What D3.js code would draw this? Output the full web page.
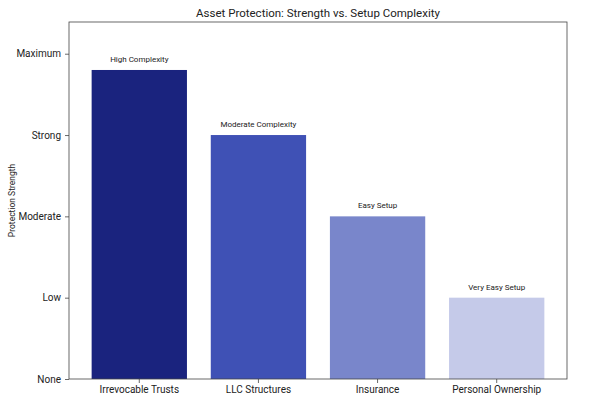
<!DOCTYPE html>
<html>
<head>
<meta charset="utf-8">
<script src="https://cdn.jsdelivr.net/npm/d3@7"></script>
<style>
body { margin: 0; background: #fff; }
svg text { font-family: "Roboto", "Noto Sans", sans-serif; fill: #222; }
</style>
</head>
<body>
<div id="chart"></div>
<script>
// chart values
var categories = ["Irrevocable Trusts", "LLC Structures", "Insurance", "Personal Ownership"];
var strength = [3.8, 3.0, 2.0, 1.0];
var complexity = ["High Complexity", "Moderate Complexity", "Easy Setup", "Very Easy Setup"];
var barColors = ["#1a237e", "#3f51b5", "#7986cb", "#c5cae9"];
var levelValues = [0, 1, 2, 3, 4];
var levelLabels = ["None", "Low", "Moderate", "Strong", "Maximum"];

var width = 600, height = 403;
var margin = {top: 22, right: 33, bottom: 24, left: 69};

var svg = d3.select("#chart").append("svg")
  .attr("width", width)
  .attr("height", height);

var plotW = width - margin.left - margin.right;
var plotH = height - margin.top - margin.bottom;

var g = svg.append("g")
  .attr("transform", "translate(" + margin.left + "," + margin.top + ")");

// bar width 0.8 of the step, small margin at both ends
var x = d3.scaleBand()
  .domain(categories)
  .range([0, plotW])
  .paddingInner(0.2)
  .paddingOuter(0.19);

var y = d3.scaleLinear()
  .domain([0, 4.39])
  .range([plotH, 0]);

// bars
g.selectAll("rect.bar")
  .data(categories)
  .enter().append("rect")
  .attr("class", "bar")
  .attr("x", function(d) { return x(d); })
  .attr("y", function(d, i) { return y(strength[i]); })
  .attr("width", x.bandwidth())
  .attr("height", function(d, i) { return y(0) - y(strength[i]); })
  .attr("fill", function(d, i) { return barColors[i]; });

// complexity labels above bars
g.selectAll("text.note")
  .data(categories)
  .enter().append("text")
  .attr("class", "note")
  .attr("x", function(d) { return x(d) + x.bandwidth() / 2; })
  .attr("y", function(d, i) { return y(strength[i]) - 8; })
  .attr("text-anchor", "middle")
  .style("font-size", "8px")
  .text(function(d, i) { return complexity[i]; });

// axes
var yAxis = d3.axisLeft(y)
  .tickValues(levelValues)
  .tickFormat(function(d, i) { return levelLabels[i]; })
  .tickSize(4)
  .tickPadding(4);

var xAxis = d3.axisBottom(x)
  .tickSize(4)
  .tickPadding(3);

var ya = g.append("g").call(yAxis);
var xa = g.append("g").attr("transform", "translate(0," + plotH + ")").call(xAxis);

[ya, xa].forEach(function(a) {
  a.select(".domain").remove();
  a.selectAll(".tick line").attr("stroke", "#444").attr("stroke-width", 0.8);
  a.selectAll(".tick text").style("font-size", "10px").attr("fill", "#222");
});

// frame
g.append("rect")
  .attr("width", plotW)
  .attr("height", plotH)
  .attr("fill", "none")
  .attr("stroke", "#444")
  .attr("stroke-width", 0.8);

// title
svg.append("text")
  .attr("x", margin.left + plotW / 2)
  .attr("y", 17)
  .attr("text-anchor", "middle")
  .style("font-size", "11.5px")
  .text("Asset Protection: Strength vs. Setup Complexity");

// y label
svg.append("text")
  .attr("transform", "translate(15," + (margin.top + plotH / 2) + ") rotate(-90)")
  .attr("text-anchor", "middle")
  .style("font-size", "8.5px")
  .text("Protection Strength");
</script>
</body>
</html>
